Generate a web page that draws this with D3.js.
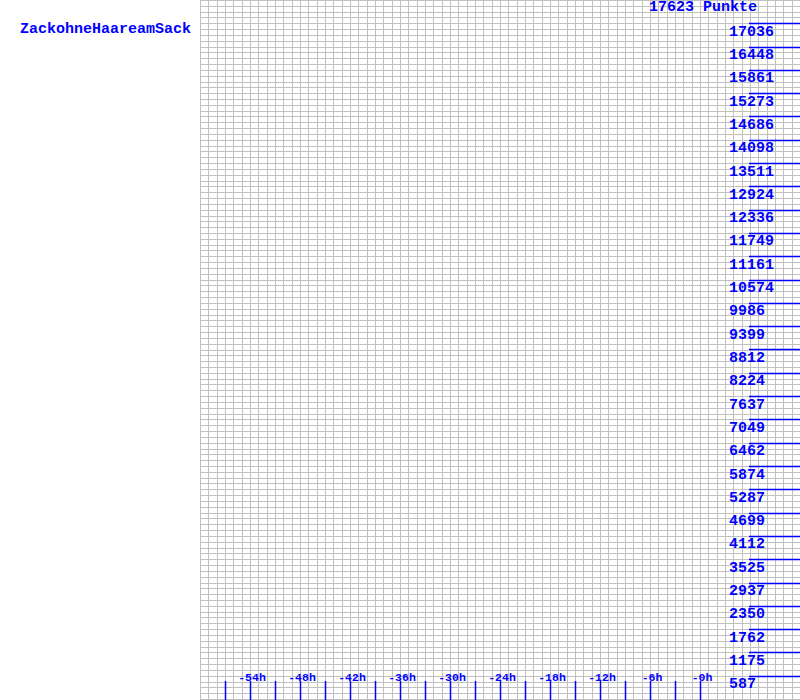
<!DOCTYPE html>
<html>
<head>
<meta charset="utf-8">
<script src="https://cdn.jsdelivr.net/npm/d3@7"></script>
<style>
  html, body { margin: 0; padding: 0; background: #fff; }
  svg { display: block; }
  text { font-family: "Liberation Mono", "DejaVu Sans Mono", monospace; fill: #0000ff; font-weight: bold; }
</style>
</head>
<body>
<svg id="chart" width="800" height="700"></svg>
<script>
// ---- data ----
const title = "ZackohneHaareamSack";
const maxPoints = 17623;
const maxLabel = "17623 Punkte";
const yTickValues = [587, 1175, 1762, 2350, 2937, 3525, 4112, 4699, 5287, 5874, 6462, 7049, 7637, 8224, 8812,
  9399, 9986, 10574, 11161, 11749, 12336, 12924, 13511, 14098, 14686, 15273, 15861, 16448, 17036];
const xMarkHours = [-57, -54, -51, -48, -45, -42, -39, -36, -33, -30, -27, -24, -21, -18, -15, -12, -9, -6, -3, 0];
const xLabelHours = [-54, -48, -42, -36, -30, -24, -18, -12, -6, 0];
const xLabelTexts = ["-54h", "-48h", "-42h", "-36h", "-30h", "-24h", "-18h", "-12h", "-6h", "-0h"];
const xDomain = [-60, 12];
const gridRows = 120;

// ---- scales ----
const svg = d3.select("#chart");
const x = d3.scaleLinear().domain(xDomain).range([200, 800]);
const y = d3.scaleLinear().domain([0, maxPoints]).range([699, 0]);

// ---- grid ----
const grid = svg.append("g").attr("stroke", "#c0c0c0").attr("stroke-width", 1).attr("shape-rendering", "crispEdges");
const vHours = d3.range(xDomain[0], xDomain[1] + 1, 1);
grid.selectAll("line.v").data(vHours).join("line")
  .attr("x1", d => Math.round(x(d)) + 0.5).attr("x2", d => Math.round(x(d)) + 0.5)
  .attr("y1", 0).attr("y2", 700);
const hVals = d3.range(0, gridRows + 1).map(i => i * maxPoints / gridRows);
grid.selectAll("line.h").data(hVals).join("line")
  .attr("x1", 200).attr("x2", 800)
  .attr("y1", d => Math.round(y(d)) + 0.5).attr("y2", d => Math.round(y(d)) + 0.5);

// ---- y ticks ----
const yg = svg.append("g");
yg.selectAll("line").data(yTickValues).join("line")
  .attr("x1", 749).attr("x2", 800)
  .attr("y1", d => Math.round(y(d)) + 0.5).attr("y2", d => Math.round(y(d)) + 0.5)
  .attr("stroke", "#0000ff").attr("stroke-width", 1.3);
yg.selectAll("text").data(yTickValues).join("text")
  .attr("x", 729).attr("y", d => y(d) + 12.5)
  .attr("font-size", "15px")
  .text(d => String(d));

// ---- x ticks ----
const xg = svg.append("g");
xg.selectAll("line").data(xMarkHours).join("line")
  .attr("x1", d => Math.round(x(d)) + 0.5).attr("x2", d => Math.round(x(d)) + 0.5)
  .attr("y1", 681).attr("y2", 700)
  .attr("stroke", "#0000ff").attr("stroke-width", 1.5);
xg.selectAll("text").data(xLabelHours).join("text")
  .attr("x", d => x(d) + 2).attr("y", 680.5)
  .attr("text-anchor", "middle")
  .attr("font-size", "11.5px")
  .attr("font-weight", "normal")
  .text((d, i) => xLabelTexts[i]);

// ---- titles ----
svg.append("text").attr("x", 20).attr("y", 33).attr("font-size", "15px").text(title);
svg.append("text").attr("x", 649).attr("y", 10.5).attr("font-size", "15px").text(maxLabel);
</script>
</body>
</html>
